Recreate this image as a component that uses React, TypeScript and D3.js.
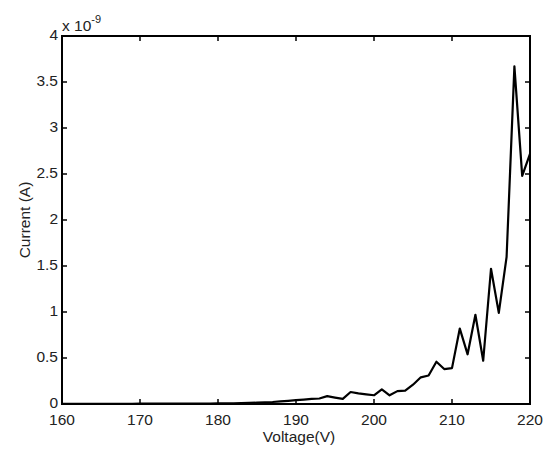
import React from "react";
import * as d3 from "d3";

const voltages = d3.range(160, 221);
const currents = [
  0.001, 0.001, 0.001, 0.001, 0.001, 0.002, 0.002, 0.002, 0.002, 0.002,
  0.003, 0.003, 0.003, 0.003, 0.003, 0.004, 0.004, 0.004, 0.005, 0.005,
  0.006, 0.007, 0.008, 0.01, 0.012, 0.015, 0.018, 0.022, 0.028, 0.035,
  0.042, 0.048, 0.055, 0.06, 0.085, 0.07, 0.055, 0.13, 0.115, 0.105,
  0.095, 0.16, 0.095, 0.14, 0.145, 0.21, 0.29, 0.31, 0.46, 0.38,
  0.39, 0.82, 0.54, 0.97, 0.47, 1.47, 0.99, 1.6, 3.67, 2.48, 2.72,
];
const xTicks = [160, 170, 180, 190, 200, 210, 220];
const yTicks = [0, 0.5, 1, 1.5, 2, 2.5, 3, 3.5, 4];

const W = 546;
const H = 449;
const m = { left: 62, right: 16, top: 36, bottom: 45 };

export default function App() {
  const x = d3.scaleLinear().domain([160, 220]).range([m.left, W - m.right]);
  const y = d3.scaleLinear().domain([0, 4]).range([H - m.bottom, m.top]);
  const line = d3
    .line<number>()
    .x((d, i) => x(voltages[i]))
    .y((d) => y(d));

  const x0 = x(160), x1 = x(220), y0 = y(0), y1 = y(4);
  const font = "'Liberation Sans', Arial, sans-serif";

  return (
    <svg
      width={W}
      height={H}
      style={{ position: "absolute", left: 0, top: 0, background: "#fff" }}
      fontFamily={font}
    >
      <path d={line(currents) || ""} fill="none" stroke="#000" strokeWidth={2.2} strokeLinejoin="round" />
      <rect x={x0} y={y1} width={x1 - x0} height={y0 - y1} fill="none" stroke="#000" strokeWidth={2} />
      {xTicks.map((t) => (
        <g key={"x" + t}>
          <line x1={x(t)} x2={x(t)} y1={y0} y2={y0 - 5} stroke="#000" strokeWidth={1.5} />
          <line x1={x(t)} x2={x(t)} y1={y1} y2={y1 + 5} stroke="#000" strokeWidth={1.5} />
          <text x={x(t)} y={y0 + 21} fontSize={15.5} textAnchor="middle" fill="#222">
            {t}
          </text>
        </g>
      ))}
      {yTicks.map((t) => (
        <g key={"y" + t}>
          <line x1={x0} x2={x0 + 5} y1={y(t)} y2={y(t)} stroke="#000" strokeWidth={1.5} />
          <line x1={x1} x2={x1 - 5} y1={y(t)} y2={y(t)} stroke="#000" strokeWidth={1.5} />
          <text x={x0 - 4} y={y(t) + 4} fontSize={15.5} textAnchor="end" fill="#222">
            {t}
          </text>
        </g>
      ))}
      <text x={x0} y={y1 - 5} fontSize={15.5} fill="#222">
        x 10
        <tspan dy={-8} fontSize={11}>-9</tspan>
      </text>
      <text x={(x0 + x1) / 2 + 3} y={H - 7} fontSize={15.5} textAnchor="middle" fill="#222">
        Voltage(V)
      </text>
      <text
        transform={`translate(30,${(y0 + y1) / 2}) rotate(-90)`}
        fontSize={15.5}
        textAnchor="middle"
        fill="#222"
      >
        Current (A)
      </text>
    </svg>
  );
}
